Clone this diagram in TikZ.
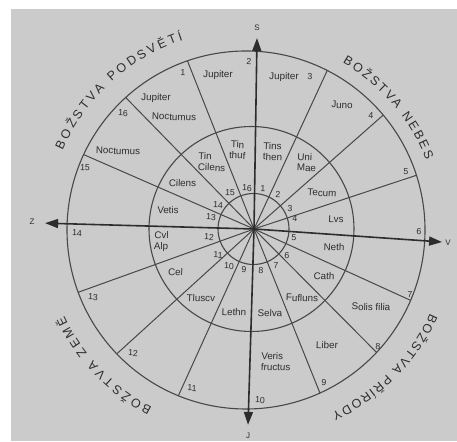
\documentclass[tikz,border=0pt]{standalone}
\usepackage{fontspec}
\setmainfont{Liberation Sans}
\usetikzlibrary{arrows.meta,decorations.text}
\definecolor{paper}{RGB}{203,203,203}
\definecolor{ink}{RGB}{72,72,72}
\definecolor{txt}{RGB}{45,45,45}
\newcommand\arcfnt{\fontsize{12.5}{12.5}\selectfont}
\begin{document}
\begin{tikzpicture}[x=1pt,y=1pt,
  lbl/.style={font=\fontsize{9.8}{11}\selectfont, text=txt, inner sep=0pt, rotate=-2, align=center},
  lblw/.style={lbl, align=left, anchor=west},
  num/.style={font=\fontsize{8.8}{9}\selectfont, text=txt, inner sep=0pt, rotate=-2},
  axl/.style={font=\fontsize{8}{8}\selectfont, text=txt, inner sep=0pt},
  ring/.style={draw=ink, line width=1.1pt},
  ray/.style={draw=ink, line width=1pt},
  axis/.style={draw=txt, line width=1.6pt, -{Triangle[length=13pt,width=9pt]}},
  arclbl/.style={decorate, decoration={text along path, text align={fit to path}, text color=txt}}
]
\useasboundingbox (0,0) rectangle (457,441);
\fill[white] (0,0) rectangle (457,441);
\fill[paper] (11,0) rectangle (457,432);

\coordinate (C) at (254,212);
\coordinate (O) at (246,211);
\coordinate (M) at (251.5,212);
\coordinate (I) at (253.5,212);

\draw[ring] (O) circle[radius=179];
\draw[ring] (M) circle[radius=102.5];
\draw[ring] (I) circle[radius=35.5];

\begin{scope}
  \clip (O) circle[radius=179];
  \foreach \a in {111.6,65.2,41.4,18.3,-24.5,-45.2,-68.1,-114.4,-137.7,-160.2,156.4,134.3}
    \draw[ray] (C) -- ++(\a:260);
\end{scope}

% axes
\draw[axis] (C) -- ++(89.1:191) coordinate (Stip);
\draw[axis] (C) -- ++(-3.96:188.5) coordinate (Vtip);
\draw[axis] (C) -- ++(-91.75:196) coordinate (Jtip);
\draw[axis] (C) -- ++(178.4:209) coordinate (Ztip);
\node[axl] (S) at (257,413) {S};
\node[axl] (V) at (448,198) {V};
\node[axl] (J) at (248,5) {J};
\node[axl] (Z) at (32,219) {Z};

% arc titles
\path[arclbl, decoration={text={|\arcfnt|BOŽSTVA PODSVĚTÍ}}] (O) ++(156.5:200) arc[start angle=156.5, end angle=108.3, radius=200];
\path[arclbl, decoration={text={|\arcfnt|BOŽSTVA NEBES}}] (O) ++(60:193) arc[start angle=60, end angle=21.2, radius=193];
\path[arclbl, decoration={text={|\arcfnt|BOŽSTVA PŘÍRODY}}] (O) ++(-24.3:202) arc[start angle=-24.3, end angle=-64.9, radius=202];
\path[arclbl, decoration={text={|\arcfnt|BOŽSTVA ZEMĚ}}] (O) ++(242.2:201) arc[start angle=242.2, end angle=205.3, radius=201];

% outer numbers
\node[num] (o1) at (183,368) {1};
\node[num] (o2) at (249,379) {2};
\node[num] (o3) at (310,364) {3};
\node[num] (o4) at (371,325) {4};
\node[num] (o5) at (406,269) {5};
\node[num] (o6) at (419,209) {6};
\node[num] (o7) at (410,146) {7};
\node[num] (o8) at (378,94) {8};
\node[num] (o9) at (324,58) {9};
\node[num] (o10) at (260,41) {10};
\node[num] (o11) at (192,53) {11};
\node[num] (o12) at (133,88) {12};
\node[num] (o13) at (93,144) {13};
\node[num] (o14) at (77,208) {14};
\node[num] (o15) at (85,273) {15};
\node[num] (o16) at (123,328) {16};

% inner numbers
\node[num] (i15) at (230,248) {15};
\node[num] (i16) at (247,253) {16};
\node[num] (i1) at (263,252) {1};
\node[num] (i2) at (278,246) {2};
\node[num] (i3) at (290,232) {3};
\node[num] (i4) at (295,222) {4};
\node[num] (i5) at (294,203) {5};
\node[num] (i6) at (287,185) {6};
\node[num] (i7) at (276,175) {7};
\node[num] (i8) at (261,170) {8};
\node[num] (i9) at (244,171) {9};
\node[num] (i10) at (229,175) {10};
\node[num] (i11) at (218,186) {11};
\node[num] (i12) at (209,204) {12};
\node[num] (i13) at (211,224) {13};
\node[num] (i14) at (218,236) {14};

% outer ring labels
\node[lbl] (jup1) at (218,366) {Jupiter};
\node[lbl] (jup2) at (284,364) {Jupiter};
\node[lbl] (juno) at (342,336) {Juno};
\node[lbl] (solis) at (371,134) {Solis filia};
\node[lbl] (liber) at (327,96) {Liber};
\node[lblw] (veris) at (261,80) {Veris\\fructus};
\node[lbl] (noct1) at (118,290) {Noctumus};
\node[lbl] (jup3) at (156,343) {Jupiter};
\node[lbl] (noct2) at (174,324) {Noctumus};

% middle ring labels
\node[lbl] (tinthuf) at (237.5,291) {Tin\\thuf};
\node[lblw] (tins) at (263,290) {Tins\\then};
\node[lblw] (uni) at (297,279) {Uni\\Mae};
\node[lbl] (tecum) at (322,248) {Tecum};
\node[lbl] (lvs) at (336,222) {Lvs};
\node[lbl] (neth) at (334,194) {Neth};
\node[lbl] (cath) at (324,165) {Cath};
\node[lbl] (fufluns) at (302,143) {Fufluns};
\node[lbl] (selva) at (270,128) {Selva};
\node[lbl] (lethn) at (234,129) {Lethn};
\node[lbl] (tluscv) at (201,143) {Tluscv};
\node[lbl] (cel) at (175.5,169) {Cel};
\node[lblw] (cvl) at (154,200) {Cvl\\Alp};
\node[lbl] (vetis) at (168,231) {Vetis};
\node[lbl] (cilens) at (182.5,258) {Cilens};
\node[lblw] (tincil) at (198,279.5) {Tin\\Cilens};
\end{tikzpicture}
\end{document}
